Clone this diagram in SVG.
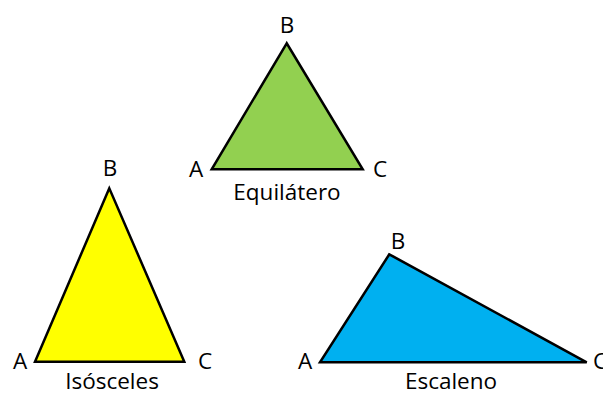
<svg xmlns="http://www.w3.org/2000/svg" width="603" height="394" viewBox="0 0 603 394">
<style>
.tri{stroke:#000;stroke-width:2.5;stroke-linejoin:miter}
text{font-family:"Open Sans","Noto Sans",sans-serif;font-size:22.5px;fill:#000}
.c{text-anchor:middle}
</style>
<rect width="603" height="394" fill="#fff"/>
<g id="equilatero">
<polygon class="tri" fill="#92D050" points="286.7,43.3 211.7,169.3 362.7,169.3"/>
<text class="c" x="287" y="33">B</text>
<text class="c" x="196" y="177">A</text>
<text class="c" x="380" y="177">C</text>
<text class="c" x="287" y="200">Equilátero</text>
</g>
<g id="isosceles">
<polygon class="tri" fill="#FFFF00" points="109.3,188.3 35,361.7 184.3,361.7"/>
<text class="c" x="110" y="176">B</text>
<text class="c" x="20" y="369">A</text>
<text class="c" x="205" y="369">C</text>
<text class="c" x="112" y="389">Isósceles</text>
</g>
<g id="escaleno">
<polygon class="tri" fill="#00B0F0" points="389.3,254.3 320,362.3 586.7,362.3"/>
<text class="c" x="398" y="249">B</text>
<text class="c" x="305" y="369">A</text>
<text class="c" x="600" y="369">C</text>
<text class="c" x="451" y="389">Escaleno</text>
</g>
<g id="connectors"></g>
</svg>
